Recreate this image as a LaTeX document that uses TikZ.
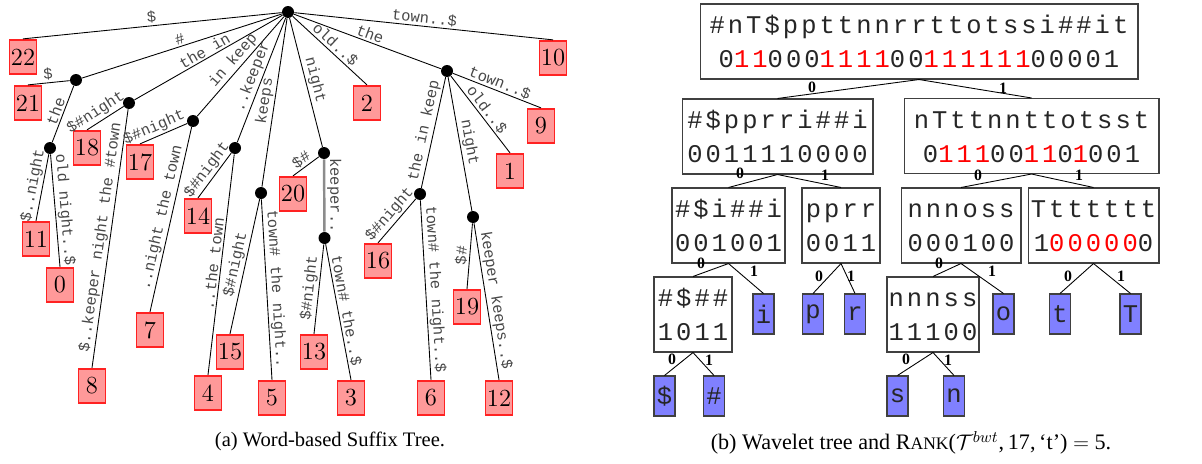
\documentclass[tikz,border=0pt]{standalone}
\usepackage{fontspec}
\newfontfamily\monofont{Liberation Mono}
\newfontfamily\wfont[LetterSpace=12]{Liberation Mono}
\newfontfamily\capfont{Liberation Serif}
\definecolor{leafred}{HTML}{FF9999}
\definecolor{leafline}{HTML}{FF2222}
\definecolor{wblue}{HTML}{8080FF}
\newcommand\rd[1]{\textcolor{red}{#1}}
% wavelet node: name, x, y, width, symbols, bits
\newcommand\wnode[6]{%
  \node[wbox,minimum width=#4] (#1) at (#2,#3) {};
  \node[wtext,anchor=base] (#1a) at (#2,{#3-8}) {#5};
  \node[wtext,anchor=base] (#1b) at (#2,{#3+26}) {#6};}
\begin{document}
\begin{tikzpicture}[x=0.02cm,y=-0.02cm,
  inode/.style={circle,fill=black,inner sep=0pt,minimum size=0.24cm},
  leafbox/.style={rectangle,draw=leafline,fill=leafred,line width=1pt,minimum width=0.54cm,minimum height=0.69cm,inner sep=0pt,font=\fontsize{14}{14}\selectfont},
  tedge/.style={draw=black,line width=0.5pt},
  gedge/.style={draw=black!45,line width=1.4pt},
  elab/.style={midway,sloped,above,inner sep=1pt,text=black!72,font=\monofont\fontsize{8.8}{9}\selectfont},
  wbox/.style={draw=black!75,line width=0.6pt,inner sep=0pt,minimum height=1.5cm},
  wtext/.style={inner sep=0pt,text=black!85,font=\wfont\fontsize{14.5}{16}\selectfont},
  wleaf/.style={draw=black!75,line width=0.6pt,fill=wblue,inner sep=0pt,minimum width=0.42cm,minimum height=0.8cm,text=black!85,font=\monofont\fontsize{14.5}{16}\selectfont},
  wedge/.style={draw=black,line width=0.5pt},
  bitlab/.style={inner sep=0pt,font=\capfont\bfseries\fontsize{9}{9}\selectfont},
  captext/.style={inner sep=0pt,font=\capfont\fontsize{11.7}{14}\selectfont}]
\useasboundingbox (0,0) rectangle (1202,463);

% ---------------- suffix tree ----------------
\node[inode] (root) at (288,12) {};
\node[inode] (A) at (76,80) {};
\node[inode] (B) at (50,148) {};
\node[inode] (C) at (129,103) {};
\node[inode] (D) at (193,121) {};
\node[inode] (E) at (235,148) {};
\node[inode] (F) at (261,193) {};
\node[inode] (G) at (324,153) {};
\node[inode] (K) at (324.5,238) {};
\node[inode] (H) at (447,71) {};
\node[inode] (I) at (420,194) {};
\node[inode] (J) at (473,217) {};

\node[leafbox] (l22) at (23,57) {22};
\node[leafbox] (l21) at (28,103) {21};
\node[leafbox] (l18) at (87,148) {18};
\node[leafbox] (l17) at (140,162) {17};
\node[leafbox] (l11) at (36,239) {11};
\node[leafbox] (l0) at (60,285) {0};
\node[leafbox] (l8) at (92,386) {8};
\node[leafbox] (l7) at (150,330) {7};
\node[leafbox] (l14) at (198,216) {14};
\node[leafbox] (l4) at (208,393) {4};
\node[leafbox] (l15) at (230,352) {15};
\node[leafbox] (l5) at (272,398) {5};
\node[leafbox] (l20) at (293,194) {20};
\node[leafbox] (l13) at (314,352) {13};
\node[leafbox] (l3) at (351,398) {3};
\node[leafbox] (l2) at (367,103) {2};
\node[leafbox] (l10) at (553,58) {10};
\node[leafbox] (l9) at (541,126) {9};
\node[leafbox] (l1) at (510,171) {1};
\node[leafbox] (l16) at (378,261) {16};
\node[leafbox] (l6) at (431,398) {6};
\node[leafbox] (l19) at (467,307) {19};
\node[leafbox] (l12) at (499,398) {12};

\draw[tedge] (root) -- node[elab]{\$} (l22.north);
\draw[tedge] (root) -- node[elab]{\#} (A);
\draw[tedge] (root) -- node[elab]{the in} (C);
\draw[tedge] (root) -- node[elab]{in keep} (D);
\draw[tedge] (root) -- node[elab]{..keeper} (E);
\draw[tedge] (root) -- node[elab]{keeps} (F);
\draw[tedge] (root) -- node[elab]{night} (G);
\draw[tedge] (root) -- node[elab]{old..\$} (l2.north);
\draw[tedge] (root) -- node[elab]{the} (H);
\draw[tedge] (root) -- node[elab]{town..\$} (l10.north);
\draw[tedge] (A) -- node[elab]{\$} (l21.north);
\draw[tedge] (A) -- node[elab]{the} (B);
\draw[tedge] (B) -- node[elab]{\$..night} (l11.north);
\draw[tedge] (B) -- node[elab]{old night..\$} (l0.north);
\draw[tedge] (C) -- node[elab,pos=0.62]{\$\#night} (l18.north);
\draw[tedge] (C) -- node[elab]{\$..keeper night the \#town} (l8.north);
\draw[tedge] (D) -- node[elab,pos=0.62]{\$\#night} (l17.north);
\draw[tedge] (D) -- node[elab]{..night the town} (l7.north);
\draw[tedge] (E) -- node[elab]{\$\#night} (l14.north);
\draw[tedge] (E) -- node[elab]{..the town} (l4.north);
\draw[tedge] (F) -- node[elab]{\$\#night} (l15.north);
\draw[tedge] (F) -- node[elab]{town\# the night..} (l5.north);
\draw[tedge] (G) -- node[elab]{\$\#} (l20.north);
\draw[gedge] (G) -- node[elab]{keeper..} (K);
\draw[tedge] (K) -- node[elab]{\$\#night} (l13.north);
\draw[tedge] (K) -- node[elab]{town\# the..\$} (l3.north);
\draw[tedge] (H) -- node[elab]{town..\$} (l9.north);
\draw[tedge] (H) -- node[elab]{old..\$} (l1.north);
\draw[tedge] (H) -- node[elab]{the in keep} (I);
\draw[tedge] (H) -- node[elab]{night} (J);
\draw[tedge] (I) -- node[elab]{\$\#night} (l16.north);
\draw[tedge] (I) -- node[elab]{town\# the night..\$} (l6.north);
\draw[tedge] (J) -- node[elab]{\$\#} (l19.north);
\draw[tedge] (J) -- node[elab]{keeper keeps..\$} (l12.north);

% ---------------- wavelet tree ----------------
\wnode{w}{919}{41.5}{8.76cm}{\#nT\$ppttnnrrttotssi\#\#it}{0\rd{11}000\rd{1111}00\rd{111111}00001}
\wnode{wl}{777.5}{136.5}{3.82cm}{\#\$pprri\#\#i}{0011110000}
\wnode{wr}{1031.5}{136}{5.1cm}{nTttnnttotsst}{0\rd{111}00\rd{11}0\rd{1}001}
\wnode{wll}{728.5}{225.5}{2.26cm}{\#\$i\#\#i}{001001}
\wnode{wlr}{841}{225.5}{1.56cm}{pprr}{0011}
\wnode{wrl}{961}{225.5}{2.4cm}{nnnoss}{000100}
\wnode{wrr}{1093.5}{225.5}{2.62cm}{Ttttttt}{1\rd{00000}0}
\wnode{wlll}{693}{314.5}{1.56cm}{\#\$\#\#}{1011}
\wnode{wrll}{933}{314.5}{1.84cm}{nnnss}{11100}
\node[wleaf] (wi) at (763.5,314) {i};
\node[wleaf] (wp) at (813,314) {p};
\node[wleaf] (wq) at (855,314) {r};
\node[wleaf] (wo) at (1003.5,314) {o};
\node[wleaf] (wt) at (1060,314) {t};
\node[wleaf] (wT) at (1130.5,314) {T};
\node[wleaf] (wd) at (664.5,396) {\$};
\node[wleaf] (wh) at (714,396) {\#};
\node[wleaf] (ws) at (897.5,396) {s};
\node[wleaf] (wn) at (954,396) {n};

\draw[wedge] (w.south) -- (wl.north);
\draw[wedge] (w.south) -- (wr.north);
\draw[wedge] (wl.south) -- (wll.north);
\draw[wedge] (wl.south) -- (wlr.north);
\draw[wedge] (wr.south) -- (wrl.north);
\draw[wedge] (wr.south) -- (wrr.north);
\draw[wedge] (wll.south) -- (wlll.north);
\draw[wedge] (wll.south) -- (wi.north);
\draw[wedge] (wlr.south) -- (wp.north);
\draw[wedge] (wlr.south) -- (wq.north);
\draw[wedge] (wrl.south) -- (wrll.north);
\draw[wedge] (wrl.south) -- (wo.north);
\draw[wedge] (wrr.south) -- (wt.north);
\draw[wedge] (wrr.south) -- (wT.north);
\draw[wedge] (wlll.south) -- (wd.north);
\draw[wedge] (wlll.south) -- (wh.north);
\draw[wedge] (wrll.south) -- (ws.north);
\draw[wedge] (wrll.south) -- (wn.north);

\node[bitlab] (b1) at (812,87) {0};
\node[bitlab] (b2) at (1003,88) {1};
\node[bitlab] (b3) at (740,173) {0};
\node[bitlab] (b4) at (825,175) {1};
\node[bitlab] (b5) at (978,175) {0};
\node[bitlab] (b6) at (1079,175) {1};
\node[bitlab] (b7) at (701,263) {0};
\node[bitlab] (b8) at (754,271) {1};
\node[bitlab] (b9) at (819,276) {0};
\node[bitlab] (b10) at (851,276) {1};
\node[bitlab] (b11) at (939,263) {0};
\node[bitlab] (b12) at (992,271) {1};
\node[bitlab] (b13) at (1068,276) {0};
\node[bitlab] (b14) at (1121,276) {1};
\node[bitlab] (b15) at (672,359) {0};
\node[bitlab] (b16) at (709,360) {1};
\node[bitlab] (b17) at (906,359) {0};
\node[bitlab] (b18) at (948,360) {1};

% ---------------- captions ----------------
\node[captext] (capa) at (330,441) {(a) Word-based Suffix Tree.};
\node[captext,font=\capfont\fontsize{12.6}{14}\selectfont] (capb) at (911,443) {(b) Wavelet tree and R{\fontsize{10}{11}\selectfont ANK}($\mathcal{T}^{bwt}$,\,17,\,‘t’) $=$ 5.};
\end{tikzpicture}
\end{document}
